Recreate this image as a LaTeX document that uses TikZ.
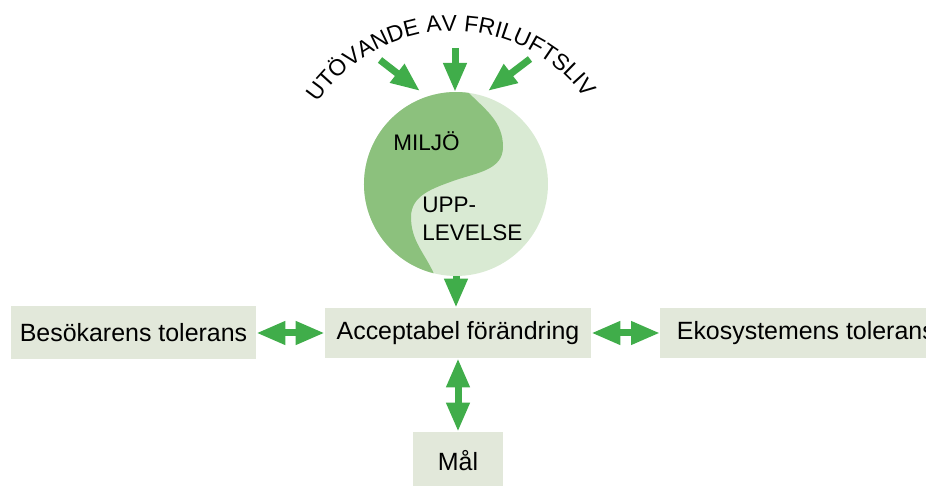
\documentclass[tikz,border=0pt]{standalone}
\usepackage{fontspec}
\setmainfont{Liberation Sans}
\usetikzlibrary{arrows.meta,decorations.text}
\definecolor{boxgreen}{HTML}{E2E8DA}
\definecolor{arrowgreen}{HTML}{40AD4A}
\definecolor{miljogreen}{HTML}{8CC17D}
\definecolor{upplevgreen}{HTML}{D9EAD3}

\begin{document}
\begin{tikzpicture}[x=0.02cm,y=0.02cm]
        \tikzset{Box/.style={fill=boxgreen, minimum height=1cm, inner sep=0pt,
                font=\fontsize{14.2}{17}\selectfont}}
        \tikzset{Pil/.style={line width=0.14cm, draw=arrowgreen,
                -{Triangle[length=0.58cm,width=0.44cm]}}}
        \tikzset{DubbelPil/.style={Pil,
                {Triangle[length=0.58cm,width=0.44cm]}-{Triangle[length=0.58cm,width=0.44cm]}}}
        \tikzset{Liten/.style={inner sep=0pt, font=\fontsize{12.8}{16}\selectfont}}
        \clip (0,0) rectangle (926,486);
        % cirkeln
        \node[circle, fill=upplevgreen, minimum size=3.68cm, inner sep=0pt, outer sep=0pt] (yin) at (456,302) {};
        \fill[miljogreen] (yin.82) arc[start angle=82, end angle=256, radius=92]
                to[out=115, in=-90] (411,269) to[out=90, in=200] (453,305)
                to[out=20, in=-90] (503,339) to[out=90, in=-45] (yin.82) -- cycle;
        \node[Liten, anchor=base west] (miljo) at (393,335) {MILJÖ};
        \node[Liten, anchor=north west, align=left] (upplevelse) at (422,289) {UPP-\\LEVELSE};
        \path[decorate, decoration={text along path, text align=center,
                text={|\fontsize{13}{15}\selectfont|UTÖVANDE AV FRILUFTSLIV}}]
                (453,292) ++(171:163) arc[start angle=171, end angle=11, radius=163];
        % rutorna
        \node[Box, minimum width=4.9cm, minimum height=1.06cm] (besok) at (133.5,153) {Besökarens tolerans};
        \node[Box, minimum width=5.32cm] (acc) at (458,153) {Acceptabel förändring};
        \node[Box, minimum width=5.82cm, anchor=west] (eko) at (660,153) {Ekosystemens tolerans};
        \node[Box, minimum width=1.8cm, minimum height=1.16cm] (mal) at (458,25) {Mål};
        % pilarna
        \coordinate (fri1) at (380,426); \coordinate (mot1) at (420,395);
        \coordinate (fri2) at (455,438); \coordinate (mot2) at (455,394);
        \coordinate (fri3) at (530,427); \coordinate (mot3) at (488,395);
        \draw[Pil] (fri1) -- (mot1);
        \draw[Pil] (fri2) -- (mot2);
        \draw[Pil] (fri3) -- (mot3);
        \draw[Pil] (yin.south) -- (yin.south |- acc.north);
        \draw[DubbelPil] (besok) -- (acc);
        \draw[DubbelPil] (acc) -- (eko);
        \draw[DubbelPil] (acc) -- (mal);
    \end{tikzpicture}
\end{document}
